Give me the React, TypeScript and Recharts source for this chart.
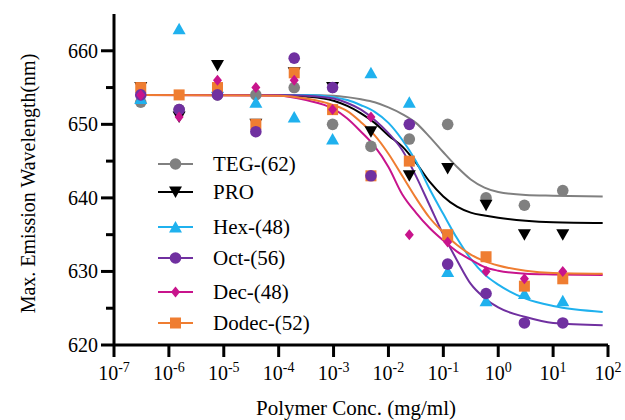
import React from 'react';
import { ComposedChart, Line, Scatter, XAxis, YAxis, Legend } from 'recharts';

const FONT = "'Liberation Serif', 'DejaVu Serif', 'Noto Serif', serif";

// measured concentrations (mg/ml), 5-fold dilution
const conc = [3.072e-7, 1.536e-6, 7.68e-6, 3.84e-5, 1.92e-4, 9.6e-4, 4.8e-3, 0.024, 0.12, 0.6, 3, 15];

const tegValues = [653, 652, 654, 654, 655, 650, 647, 648, 650, 640, 639, 641];
const proValues = [655, 651, 658, 650, 657, 655, 649, 643, 644, 639, 635, 635];
const hexValues = [653.5, 663, 655, 653, 651, 648, 657, 653, 630, 626, 627, 626];
const octValues = [654, 652, 654, 649, 659, 655, 643, 650, 631, 627, 623, 623];
const decValues = [654, 651, 656, 655, 656, 652, 651, 635, 634, 630, 629, 630];
const dodecValues = [655, 654, 655, 650, 657, 652, 643, 645, 635, 632, 628, 629];

// fitted curves
const fitConc = [3.072e-7, 1e-4, 3.16e-4, 1e-3, 1.78e-3, 3.16e-3, 5.62e-3, 1e-2, 1.78e-2, 3.16e-2, 5.62e-2, 0.1, 0.178, 0.316, 0.562, 1, 3.16, 10, 80];
const tegFit = [654, 654, 654, 653.9, 653.7, 653.4, 653, 652.3, 651.4, 650.2, 648.3, 646.2, 644.2, 642.5, 641.4, 640.8, 640.4, 640.3, 640.2];
const proFit = [654, 654, 653.8, 653.2, 652.5, 651.5, 650.2, 648.5, 647, 644.8, 642.2, 640.2, 638.8, 638, 637.6, 637.3, 636.9, 636.7, 636.6];
const hexFit = [654, 654, 654, 653.7, 653.3, 652.6, 651.7, 650.2, 647.9, 645, 641.2, 637.8, 634.5, 631.7, 629.6, 628.2, 626.3, 625.3, 624.5];
const octFit = [654, 654, 653.9, 653.5, 652.9, 652, 650.6, 648.8, 646.5, 643, 639, 635, 631.5, 628.3, 626.4, 625.1, 623.8, 623, 622.7];
const decFit = [654, 653.9, 653.3, 652.1, 650.8, 649, 647, 644.2, 640.5, 638, 635.9, 634.2, 632.7, 631.6, 630.6, 630.1, 629.7, 629.6, 629.5];
const dodecFit = [654, 653.9, 653.5, 652.6, 651.8, 650.3, 648.5, 646, 643, 640, 637.3, 635.3, 633.6, 632.3, 631.4, 630.8, 630.1, 629.8, 629.7];

const xTicks = [1e-7, 1e-6, 1e-5, 1e-4, 1e-3, 1e-2, 1e-1, 1, 10, 100];
const xExponents = ['-7', '-6', '-5', '-4', '-3', '-2', '-1', '0', '1', '2'];
const yTicks = [620, 625, 630, 635, 640, 645, 650, 655, 660];

const series = [
  { name: 'TEG-(62)', color: '#808080', shape: 'circle', values: tegValues, fit: tegFit },
  { name: 'PRO', color: '#000000', shape: 'down', values: proValues, fit: proFit },
  { name: 'Hex-(48)', color: '#1fb1ee', shape: 'up', values: hexValues, fit: hexFit },
  { name: 'Oct-(56)', color: '#7030a0', shape: 'circle', values: octValues, fit: octFit },
  { name: 'Dec-(48)', color: '#c8148c', shape: 'diamond', values: decValues, fit: decFit },
  { name: 'Dodec-(52)', color: '#ef7d31', shape: 'square', values: dodecValues, fit: dodecFit },
];

// scatter draw order (later on top)
const drawOrder = [0, 1, 2, 5, 3, 4];
const legendRows = [164, 192, 227, 258, 292, 323];

function Marker({ kind, cx, cy, fill }: { kind: string; cx: number; cy: number; fill: string }) {
  if (cx == null || cy == null) return null;
  switch (kind) {
    case 'circle':
      return <circle cx={cx} cy={cy} r={5.8} fill={fill} />;
    case 'down':
      return <path d={`M${cx - 6.5},${cy - 5.5}L${cx + 6.5},${cy - 5.5}L${cx},${cy + 6}Z`} fill={fill} />;
    case 'up':
      return <path d={`M${cx - 6.5},${cy + 5.5}L${cx + 6.5},${cy + 5.5}L${cx},${cy - 6}Z`} fill={fill} />;
    case 'diamond':
      return <path d={`M${cx},${cy - 5.5}L${cx + 4.5},${cy}L${cx},${cy + 5.5}L${cx - 4.5},${cy}Z`} fill={fill} />;
    default:
      return <rect x={cx - 5.5} y={cy - 5.5} width={11} height={11} fill={fill} />;
  }
}

function XTick(props: any) {
  const { x, y, index } = props;
  return (
    <g>
      <line x1={x} y1={y} x2={x} y2={y + 12} stroke="#000" strokeWidth={3} />
      <text x={x} y={y + 35} textAnchor="middle" style={{ fontFamily: FONT }} fontSize={20} fill="#000">
        <tspan>10</tspan>
        <tspan dy={-8} fontSize={14}>{xExponents[index]}</tspan>
      </text>
    </g>
  );
}

function YTick(props: any) {
  const { x, y, payload } = props;
  const major = payload.value % 10 === 0;
  return (
    <g>
      <line x1={x - (major ? 13 : 8)} y1={y} x2={x} y2={y} stroke="#000" strokeWidth={3} />
      {major && (
        <text x={x - 16} y={y + 7} textAnchor="end" style={{ fontFamily: FONT }} fontSize={20} fill="#000">
          {payload.value}
        </text>
      )}
    </g>
  );
}

function renderLegend() {
  return (
    <div style={{ position: 'relative', width: 230, height: 200, fontFamily: FONT, fontSize: 21, color: '#000' }}>
      {series.map((s, i) => (
        <div
          key={s.name}
          style={{ position: 'absolute', left: 0, top: legendRows[i] - 148 - 12, height: 24, display: 'flex', alignItems: 'center', whiteSpace: 'nowrap' }}
        >
          <svg width={40} height={24}>
            <line x1={3} y1={12} x2={38} y2={12} stroke={s.color} strokeWidth={2} />
            <Marker kind={s.shape} cx={20.5} cy={12} fill={s.color} />
          </svg>
          <span style={{ marginLeft: 18 }}>{s.name}</span>
        </div>
      ))}
    </div>
  );
}

export default function App() {
  return (
    <div style={{ position: 'absolute', left: 0, top: 0, background: '#fff', fontFamily: FONT }}>
      <ComposedChart width={625} height={420} margin={{ top: 14, right: 17, bottom: 0, left: 0 }} style={{ fontFamily: FONT }}>
        <XAxis
          type="number"
          dataKey="x"
          scale="log"
          domain={[1e-7, 100]}
          ticks={xTicks}
          interval={0}
          allowDataOverflow
          height={75}
          axisLine={{ stroke: '#000', strokeWidth: 3 }}
          tickLine={false}
          tickSize={0}
          tickMargin={0}
          tick={XTick}
          label={({ viewBox }: any) => (
            <text x={viewBox.x + viewBox.width / 2 - 5} y={viewBox.y + 70} textAnchor="middle" style={{ fontFamily: FONT }} fontSize={21} fill="#000">
              Polymer Conc. (mg/ml)
            </text>
          )}
        />
        <YAxis
          type="number"
          dataKey="y"
          domain={[620, 665]}
          ticks={yTicks}
          interval={0}
          allowDataOverflow
          width={114}
          axisLine={{ stroke: '#000', strokeWidth: 3 }}
          tickLine={false}
          tickSize={0}
          tickMargin={0}
          tick={YTick}
          label={({ viewBox }: any) => {
            const cx = 28;
            const cy = viewBox.y + viewBox.height / 2 + 4;
            return (
              <text x={cx} y={cy} transform={`rotate(-90 ${cx} ${cy})`} textAnchor="middle" dominantBaseline="central" style={{ fontFamily: FONT }} fontSize={20} fill="#000">
                Max. Emission Wavelength(nm)
              </text>
            );
          }}
        />
        {series.map((s) => (
          <Line
            key={s.name + '-fit'}
            data={fitConc.map((x, i) => ({ x, y: s.fit[i] }))}
            dataKey="y"
            type="monotone"
            stroke={s.color}
            strokeWidth={2}
            dot={false}
            activeDot={false}
            legendType="none"
            isAnimationActive={false}
          />
        ))}
        {drawOrder.map((idx) => {
          const s = series[idx];
          return (
            <Scatter
              key={s.name}
              name={s.name}
              data={conc.map((x, i) => ({ x, y: s.values[i] }))}
              dataKey="y"
              fill={s.color}
              isAnimationActive={false}
              shape={(p: any) => <Marker kind={s.shape} cx={p.cx} cy={p.cy} fill={s.color} />}
            />
          );
        })}
        <Legend
          layout="horizontal"
          verticalAlign="middle"
          align="center"
          content={renderLegend}
          wrapperStyle={{ left: 155, top: 148, width: 230, height: 200 }}
        />
      </ComposedChart>
    </div>
  );
}
